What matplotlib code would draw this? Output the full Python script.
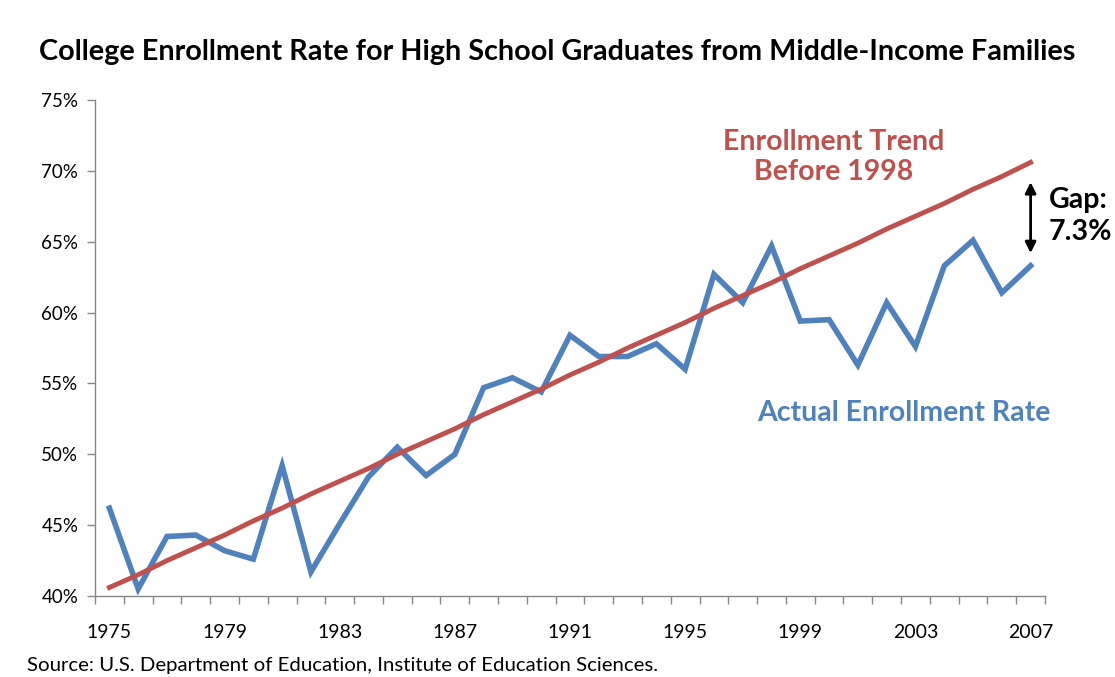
import matplotlib
matplotlib.use("Agg")
import matplotlib.pyplot as plt
from matplotlib.ticker import FixedLocator, FuncFormatter

years = list(range(1975, 2008))
actual_rate = [46.2, 40.5, 44.2, 44.3, 43.2, 42.6, 49.2, 41.7, 45.1, 48.4,
               50.5, 48.5, 50.0, 54.7, 55.4, 54.4, 58.4, 56.9, 56.9, 57.8,
               56.0, 62.7, 60.7, 64.7, 59.4, 59.5, 56.3, 60.7, 57.6, 63.3,
               65.1, 61.4, 63.3]
trend_rate = [40.6, 41.5, 42.5, 43.4, 44.3, 45.3, 46.2, 47.2, 48.1, 49.0,
              50.0, 50.9, 51.8, 52.8, 53.7, 54.6, 55.6, 56.5, 57.5, 58.4,
              59.3, 60.3, 61.2, 62.1, 63.1, 64.0, 64.9, 65.9, 66.8, 67.7,
              68.7, 69.6, 70.6]
year_labels = [str(y) for y in years]
y_ticks = [40, 45, 50, 55, 60, 65, 70, 75]

BLUE = "#4F81BD"
RED = "#C0504D"
AXIS = "#868686"
FONT = ["Lato", "DejaVu Sans"]
plt.rcParams["font.family"] = FONT

fig = plt.figure(figsize=(11.15, 6.77), dpi=100)
ax = fig.add_axes([95 / 1115, 1 - 596 / 677, (1045 - 95) / 1115, (596 - 100) / 677])

x = list(range(len(years)))
ax.plot(x, actual_rate, color=BLUE, lw=4, solid_joinstyle="miter", zorder=3)
ax.plot(x, trend_rate, color=RED, lw=3.5, zorder=4)

ax.set_xlim(-0.5, len(years) - 0.5)
ax.set_ylim(40, 75)

ax.xaxis.set_major_locator(FixedLocator(x[::4]))
ax.set_xticklabels(year_labels[::4])
ax.xaxis.set_minor_locator(FixedLocator([i - 0.5 for i in range(len(years) + 1)]))
ax.tick_params(axis="x", which="major", length=0, pad=20.5, labelsize=14, colors="#000000")
ax.tick_params(axis="x", which="minor", length=6, width=1, color=AXIS, direction="out")

ax.yaxis.set_major_locator(FixedLocator(y_ticks))
ax.yaxis.set_major_formatter(FuncFormatter(lambda v, p: f"{v:.0f}%"))
ax.tick_params(axis="y", length=6, width=1, color=AXIS, direction="out", pad=6, labelsize=13.5)

for s in ["top", "right"]:
    ax.spines[s].set_visible(False)
for s in ["left", "bottom"]:
    ax.spines[s].set_color(AXIS)
    ax.spines[s].set_linewidth(1)

ax.text(834 / 1115, 1 - 157 / 677, "Enrollment Trend\nBefore 1998", transform=fig.transFigure,
        ha="center", va="center", color=RED, fontsize=20.5, fontweight="bold", linespacing=1.15)
ax.text(904 / 1115, 1 - 413 / 677, "Actual Enrollment Rate", transform=fig.transFigure,
        ha="center", va="center", color=BLUE, fontsize=20.5, fontweight="bold")
ax.text(1049 / 1115, 1 - 216 / 677, "Gap:\n7.3%", transform=fig.transFigure,
        ha="left", va="center", color="black", fontsize=20.5, fontweight="bold", linespacing=1.25)

ax.annotate("", xy=(len(years) - 1, 64.2), xytext=(len(years) - 1, 69.2),
            arrowprops=dict(arrowstyle="<|-|>", color="black", lw=2, mutation_scale=16,
                            shrinkA=0, shrinkB=0))

fig.text(557 / 1115, 1 - 52 / 677,
         "College Enrollment Rate for High School Graduates from Middle-Income Families",
         ha="center", va="center", fontsize=20.7, fontweight="bold")
fig.text(27 / 1115, 1 - 666 / 677,
         "Source: U.S. Department of Education, Institute of Education Sciences.",
         ha="left", va="center", fontsize=14.7)

fig.savefig("out.png", dpi=100)
